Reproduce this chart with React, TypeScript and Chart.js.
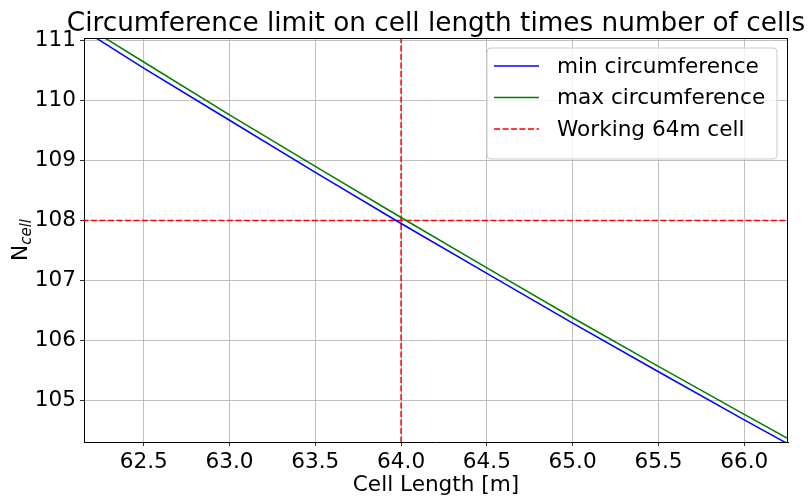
import React, { useEffect, useRef } from "react";
import { Chart, registerables } from "chart.js";

Chart.register(...registerables);

// ---- data ----
const cellLength = [62.15, 62.5, 63.0, 63.5, 64.0, 64.5, 65.0, 65.5, 66.0, 66.26];
const nMinCirc = [111.17, 110.54, 109.67, 108.80, 107.95, 107.12, 106.29, 105.48, 104.68, 104.27];
const nMaxCirc = [111.26, 110.64, 109.76, 108.90, 108.05, 107.21, 106.38, 105.57, 104.77, 104.36];
const workingLength = 64;
const workingCells = 108;
const xTicks = [62.5, 63.0, 63.5, 64.0, 64.5, 65.0, 65.5, 66.0];
const yTicks = [105, 106, 107, 108, 109, 110, 111];
const xRange = [62.152, 66.255];
const yRange = [104.31, 111.04];
const seriesLabels = ["min circumference", "max circumference", "Working 64m cell"];
const titleText = "Circumference limit on cell length times number of cells";
const xLabel = "Cell Length [m]";
const yLabelMain = "N";
const yLabelSub = "cell";

const FONT = '"DejaVu Sans", "Liberation Sans", sans-serif';
const W = 808;
const H = 496;
const FS = 21.6;

const COLORS = ["#0000ff", "#008000", "#ff0000"];

export default function App() {
  const ref = useRef<HTMLCanvasElement | null>(null);

  useEffect(() => {
    if (!ref.current) return;

    const decor = {
      id: "decor",
      afterDraw(chart: any) {
        const ctx = chart.ctx as CanvasRenderingContext2D;
        const a = chart.chartArea;
        ctx.save();
        // top/right spines
        ctx.strokeStyle = "#000";
        ctx.lineWidth = 1;
        ctx.beginPath();
        ctx.moveTo(a.left, a.top + 0.5);
        ctx.lineTo(a.right, a.top + 0.5);
        ctx.moveTo(a.right - 0.5, a.top);
        ctx.lineTo(a.right - 0.5, a.bottom);
        ctx.stroke();

        // title
        ctx.fillStyle = "#000";
        ctx.font = `26.3px ${FONT}`;
        ctx.textAlign = "center";
        ctx.textBaseline = "alphabetic";
        ctx.fillText(titleText, (a.left + a.right) / 2, 30.5);

        // x label
        ctx.font = `${FS}px ${FONT}`;
        ctx.fillText(xLabel, (a.left + a.right) / 2, 491);

        // y label with subscript
        ctx.save();
        ctx.translate(27, (a.top + a.bottom) / 2);
        ctx.rotate(-Math.PI / 2);
        ctx.textAlign = "left";
        ctx.font = `${FS}px ${FONT}`;
        const wN = ctx.measureText(yLabelMain).width;
        ctx.font = `italic 15px ${FONT}`;
        const wS = ctx.measureText(yLabelSub).width;
        const start = -(wN + wS) / 2;
        ctx.font = `${FS}px ${FONT}`;
        ctx.fillText(yLabelMain, start, 0);
        ctx.font = `italic 15px ${FONT}`;
        ctx.fillText(yLabelSub, start + wN, 4);
        ctx.restore();

        // legend
        const bx = 487, by = 48, bw = 290, bh = 111, r = 4;
        ctx.beginPath();
        ctx.moveTo(bx + r, by);
        ctx.lineTo(bx + bw - r, by);
        ctx.quadraticCurveTo(bx + bw, by, bx + bw, by + r);
        ctx.lineTo(bx + bw, by + bh - r);
        ctx.quadraticCurveTo(bx + bw, by + bh, bx + bw - r, by + bh);
        ctx.lineTo(bx + r, by + bh);
        ctx.quadraticCurveTo(bx, by + bh, bx, by + bh - r);
        ctx.lineTo(bx, by + r);
        ctx.quadraticCurveTo(bx, by, bx + r, by);
        ctx.closePath();
        ctx.fillStyle = "rgba(255,255,255,0.8)";
        ctx.fill();
        ctx.strokeStyle = "#cccccc";
        ctx.lineWidth = 1;
        ctx.stroke();

        const rows = [66, 97.5, 129];
        ctx.font = `${FS}px ${FONT}`;
        ctx.textAlign = "left";
        ctx.textBaseline = "middle";
        seriesLabels.forEach((lab, i) => {
          ctx.strokeStyle = COLORS[i];
          ctx.lineWidth = 1.5;
          ctx.setLineDash(i === 2 ? [6, 2.5] : []);
          ctx.beginPath();
          ctx.moveTo(494, rows[i]);
          ctx.lineTo(539, rows[i]);
          ctx.stroke();
          ctx.setLineDash([]);
          ctx.fillStyle = "#000";
          ctx.fillText(lab, 557, rows[i] + 1);
        });
        ctx.restore();
      },
    };

    const chart = new Chart(ref.current, {
      type: "scatter",
      data: {
        datasets: [
          {
            label: seriesLabels[0],
            data: cellLength.map((x, i) => ({ x, y: nMinCirc[i] })),
            showLine: true,
            borderColor: COLORS[0],
            borderWidth: 1.5,
            pointRadius: 0,
            tension: 0,
          },
          {
            label: seriesLabels[1],
            data: cellLength.map((x, i) => ({ x, y: nMaxCirc[i] })),
            showLine: true,
            borderColor: COLORS[1],
            borderWidth: 1.5,
            pointRadius: 0,
            tension: 0,
          },
          {
            label: seriesLabels[2],
            data: [
              { x: xRange[0] - 1, y: workingCells },
              { x: xRange[1] + 1, y: workingCells },
            ],
            showLine: true,
            borderColor: COLORS[2],
            borderWidth: 1.5,
            borderDash: [6, 2.5],
            pointRadius: 0,
          },
          {
            label: "",
            data: [
              { x: workingLength, y: yRange[0] - 1 },
              { x: workingLength, y: yRange[1] + 1 },
            ],
            showLine: true,
            borderColor: COLORS[2],
            borderWidth: 1.5,
            borderDash: [6, 2.5],
            pointRadius: 0,
          },
        ],
      },
      options: {
        responsive: false,
        animation: false,
        layout: { padding: { top: 38, right: 20, bottom: 0, left: 0 } },
        plugins: {
          legend: { display: false },
          title: { display: false },
          tooltip: { enabled: false },
        },
        scales: {
          x: {
            type: "linear",
            min: xRange[0],
            max: xRange[1],
            afterFit: (s: any) => {
              s.height = 54;
            },
            afterBuildTicks: (s: any) => {
              s.ticks = xTicks.map((v) => ({ value: v }));
            },
            ticks: {
              font: { family: FONT, size: FS },
              color: "#000",
              padding: 3,
              maxRotation: 0,
              autoSkip: false,
              callback: (v: any) => Number(v).toFixed(1),
            },
            grid: { color: "#b0b0b0", lineWidth: 0.8, tickColor: "#000", tickLength: 4 },
            border: { color: "#000", width: 1 },
          },
          y: {
            type: "linear",
            min: yRange[0],
            max: yRange[1],
            afterFit: (s: any) => {
              s.width = 84;
            },
            afterBuildTicks: (s: any) => {
              s.ticks = yTicks.map((v) => ({ value: v }));
            },
            ticks: {
              font: { family: FONT, size: FS },
              color: "#000",
              padding: 4,
              autoSkip: false,
              callback: (v: any) => String(Math.round(Number(v))),
            },
            grid: { color: "#b0b0b0", lineWidth: 0.8, tickColor: "#000", tickLength: 4 },
            border: { color: "#000", width: 1 },
          },
        },
      },
      plugins: [decor],
    });

    return () => chart.destroy();
  }, []);

  return (
    <div style={{ position: "fixed", left: 0, top: 0, width: W, height: H, background: "#fff" }}>
      <canvas ref={ref} width={W} height={H} style={{ width: W, height: H, display: "block" }} />
    </div>
  );
}
